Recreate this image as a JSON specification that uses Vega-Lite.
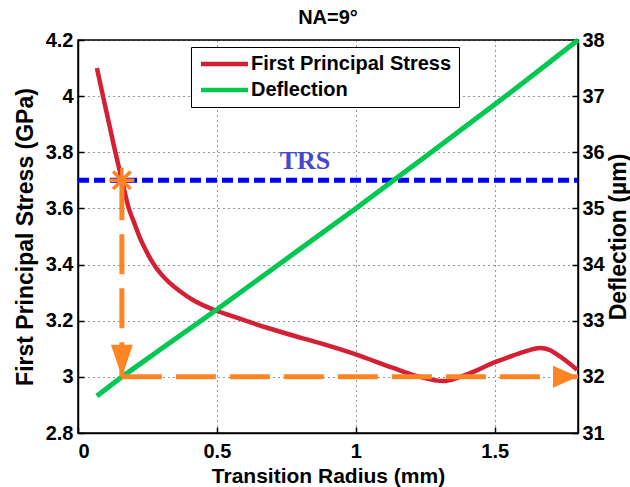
{
  "$schema": "https://vega.github.io/schema/vega-lite/v6.json",
  "width": 500,
  "height": 393,
  "autosize": {"type": "none"},
  "padding": {"left": 78, "top": 40, "right": 52, "bottom": 54},
  "title": {"text": "NA=9°", "fontSize": 20, "fontWeight": "bold", "font": "Liberation Sans", "color": "black", "anchor": "middle", "frame": "group", "baseline": "alphabetic", "offset": -14},
  "datasets": {
    "stress": [
      {"x": 0.068, "stress": 4.10, "series": "First Principal Stress"},
      {"x": 0.09, "stress": 4.00, "series": "First Principal Stress"},
      {"x": 0.11, "stress": 3.91, "series": "First Principal Stress"},
      {"x": 0.13, "stress": 3.82, "series": "First Principal Stress"},
      {"x": 0.158, "stress": 3.70, "series": "First Principal Stress"},
      {"x": 0.17, "stress": 3.65, "series": "First Principal Stress"},
      {"x": 0.18, "stress": 3.61, "series": "First Principal Stress"},
      {"x": 0.19, "stress": 3.58, "series": "First Principal Stress"},
      {"x": 0.2, "stress": 3.555, "series": "First Principal Stress"},
      {"x": 0.223, "stress": 3.495, "series": "First Principal Stress"},
      {"x": 0.25, "stress": 3.44, "series": "First Principal Stress"},
      {"x": 0.27, "stress": 3.405, "series": "First Principal Stress"},
      {"x": 0.3, "stress": 3.365, "series": "First Principal Stress"},
      {"x": 0.33, "stress": 3.335, "series": "First Principal Stress"},
      {"x": 0.367, "stress": 3.305, "series": "First Principal Stress"},
      {"x": 0.42, "stress": 3.27, "series": "First Principal Stress"},
      {"x": 0.486, "stress": 3.24, "series": "First Principal Stress"},
      {"x": 0.55, "stress": 3.218, "series": "First Principal Stress"},
      {"x": 0.68, "stress": 3.175, "series": "First Principal Stress"},
      {"x": 0.8, "stress": 3.14, "series": "First Principal Stress"},
      {"x": 0.871, "stress": 3.12, "series": "First Principal Stress"},
      {"x": 1.0, "stress": 3.08, "series": "First Principal Stress"},
      {"x": 1.134, "stress": 3.032, "series": "First Principal Stress"},
      {"x": 1.231, "stress": 3.0, "series": "First Principal Stress"},
      {"x": 1.314, "stress": 2.985, "series": "First Principal Stress"},
      {"x": 1.375, "stress": 3.0, "series": "First Principal Stress"},
      {"x": 1.44, "stress": 3.025, "series": "First Principal Stress"},
      {"x": 1.494, "stress": 3.05, "series": "First Principal Stress"},
      {"x": 1.55, "stress": 3.07, "series": "First Principal Stress"},
      {"x": 1.602, "stress": 3.088, "series": "First Principal Stress"},
      {"x": 1.663, "stress": 3.103, "series": "First Principal Stress"},
      {"x": 1.7, "stress": 3.095, "series": "First Principal Stress"},
      {"x": 1.724, "stress": 3.08, "series": "First Principal Stress"},
      {"x": 1.76, "stress": 3.055, "series": "First Principal Stress"},
      {"x": 1.797, "stress": 3.025, "series": "First Principal Stress"}
    ],
    "deflection": [
      {"x": 0.068, "defl": 31.66, "series": "Deflection"},
      {"x": 0.158, "defl": 32.0, "series": "Deflection"},
      {"x": 0.3, "defl": 32.5, "series": "Deflection"},
      {"x": 0.5, "defl": 33.2, "series": "Deflection"},
      {"x": 0.75, "defl": 34.1, "series": "Deflection"},
      {"x": 1.0, "defl": 35.0, "series": "Deflection"},
      {"x": 1.25, "defl": 35.92, "series": "Deflection"},
      {"x": 1.5, "defl": 36.85, "series": "Deflection"},
      {"x": 1.65, "defl": 37.42, "series": "Deflection"},
      {"x": 1.8, "defl": 38.0, "series": "Deflection"}
    ],
    "trs": [{"x": 0, "x2": 1.8, "stress": 3.7}],
    "trslabel": [{"x": 0.817, "stress": 3.74, "label": "TRS"}],
    "arrows": [
      {"x": 0.158, "x2": 0.158, "defl": 35.5, "defl2": 32.0},
      {"x": 0.158, "x2": 1.8, "defl": 32.0, "defl2": 32.0}
    ],
    "headdown": [{"x": 0.158, "defl": 32.0}],
    "headright": [{"x": 1.8, "defl": 32.0}],
    "star": [{"x": 0.158, "defl": 35.5}]
  },
  "encoding": {
    "x": {
      "field": "x", "type": "quantitative",
      "scale": {"domain": [0, 1.8], "nice": false, "zero": false},
      "axis": {"values": [0, 0.5, 1, 1.5], "format": "~g", "title": "Transition Radius (mm)", "grid": true, "titleFontSize": 21, "labelPadding": 14, "titlePadding": 4}
    }
  },
  "layer": [
    {
      "encoding": {
        "y": {
          "field": "stress", "type": "quantitative",
          "scale": {"domain": [2.8, 4.2], "nice": false, "zero": false},
          "axis": {"values": [2.8, 3, 3.2, 3.4, 3.6, 3.8, 4, 4.2], "format": "~g", "title": "First Principal Stress (GPa)", "grid": true, "orient": "left", "labelPadding": 11, "titlePadding": 8}
        }
      },
      "layer": [
        {
          "data": {"name": "stress"},
          "mark": {"type": "line", "strokeWidth": 4.5, "interpolate": "monotone"},
          "encoding": {
            "color": {"field": "series", "type": "nominal", "scale": {"domain": ["First Principal Stress", "Deflection"], "range": ["#D42035", "#00C850"]}, "legend": {"title": null}}
          }
        },
        {
          "data": {"name": "trs"},
          "mark": {"type": "rule", "color": "#0000FF", "strokeWidth": 5, "strokeDash": [11, 5]},
          "encoding": {"x2": {"field": "x2"}}
        },
        {
          "data": {"name": "trslabel"},
          "mark": {"type": "text", "font": "Liberation Serif", "fontSize": 26, "fontWeight": "bold", "color": "#4646D2", "align": "center", "baseline": "alphabetic"},
          "encoding": {"text": {"field": "label"}}
        }
      ]
    },
    {
      "encoding": {
        "y": {
          "field": "defl", "type": "quantitative",
          "scale": {"domain": [31, 38], "nice": false, "zero": false},
          "axis": {"values": [31, 32, 33, 34, 35, 36, 37, 38], "format": "~g", "title": "Deflection (µm)", "grid": false, "orient": "right", "titleAngle": 270, "titleBaseline": "top", "labelPadding": 10, "titlePadding": 3}
        }
      },
      "layer": [
        {
          "data": {"name": "deflection"},
          "mark": {"type": "line", "strokeWidth": 5},
          "encoding": {
            "color": {"field": "series", "type": "nominal", "scale": {"domain": ["First Principal Stress", "Deflection"], "range": ["#D42035", "#00C850"]}, "legend": {"title": null}}
          }
        },
        {
          "data": {"name": "arrows"},
          "mark": {"type": "rule", "color": "#FF8424", "strokeWidth": 5, "strokeDash": [40, 14]},
          "encoding": {"x2": {"field": "x2"}, "y2": {"field": "defl2"}}
        },
        {
          "data": {"name": "headdown"},
          "mark": {"type": "point", "shape": "M0,0L-0.55,-1.6L0.55,-1.6Z", "size": 1600, "filled": true, "color": "#FF8424", "opacity": 1}
        },
        {
          "data": {"name": "headright"},
          "mark": {"type": "point", "shape": "M0,0L-1.25,-0.55L-1.25,0.55Z", "size": 1600, "filled": true, "color": "#FF8424", "opacity": 1}
        },
        {
          "data": {"name": "star"},
          "mark": {"type": "point", "shape": "M-1,0L1,0M0,-1L0,1M-0.7,-0.7L0.7,0.7M-0.7,0.7L0.7,-0.7", "size": 625, "filled": false, "color": "#FF8424", "strokeWidth": 3.5, "opacity": 1}
        }
      ]
    }
  ],
  "resolve": {"scale": {"y": "independent"}},
  "config": {
    "font": "Liberation Sans",
    "view": {"stroke": "black", "strokeWidth": 1.5},
    "axis": {
      "labelFont": "Liberation Sans", "labelFontSize": 20, "labelFontWeight": "bold", "labelColor": "black",
      "titleFont": "Liberation Sans", "titleFontSize": 23, "titleFontWeight": "bold", "titleColor": "black",
      "domainColor": "black", "domainWidth": 1.5,
      "tickColor": "black", "tickSize": -6, "tickWidth": 1.5,
      "gridColor": "black", "gridDash": [1, 4], "gridOpacity": 0.8, "gridWidth": 1
    },
    "legend": {
      "orient": "none", "legendX": 113, "legendY": 7, "direction": "vertical",
      "labelFont": "Liberation Sans", "labelFontSize": 20, "labelFontWeight": "bold", "labelColor": "black", "labelLimit": 400,
      "symbolType": "M-1.4,0H8", "symbolSize": 100, "symbolStrokeWidth": 4.5,
      "strokeColor": "black", "fillColor": "white", "padding": 7, "rowPadding": 6, "labelOffset": 33, "cornerRadius": 0
    }
  }
}
